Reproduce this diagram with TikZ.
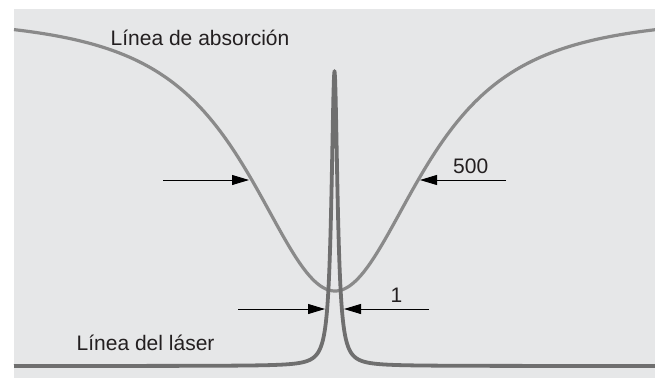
\documentclass[tikz,border=0pt]{standalone}
\usepackage{fontspec}
\setmainfont{Liberation Sans}
\usetikzlibrary{arrows.meta}
\definecolor{bg}{HTML}{E6E7E8}
\definecolor{absorb}{HTML}{8A8A8A}
\definecolor{laser}{HTML}{6F6F6F}
\definecolor{txt}{HTML}{231F20}
\begin{document}
\begin{tikzpicture}[x=1pt,y=-1pt,
  lbl/.style={anchor=base west,inner sep=0pt,text=txt,font=\fontsize{21}{25}\selectfont},
  dim/.style={draw=black,line width=0.9pt,-{Triangle[length=17pt,width=10pt]}},
  absline/.style={draw=absorb,line width=3.2pt,line join=round},
  lasline/.style={draw=laser,line width=3.8pt,line join=round}]
\useasboundingbox (0,0) rectangle (655,378);
\fill[bg] (14,9) rectangle (655,378);
% absorption line
\draw[absline] plot[domain=-321:320,samples=321,smooth] ({335+\x},{15+276/((1+(\x/130)^2)^1.5)});
% laser line
\draw[lasline] plot[domain=-320.5:320.5,samples=1283] ({334.5+\x},{366-295/(1+(\x/3.6)^2)});
% labels
\node[lbl] (tabs) at (110.5,45) {Línea de absorción};
\node[lbl] (tlas) at (76.5,350) {Línea del láser};
\node[lbl] (t500) at (453,173) {500};
\node[lbl] (tone) at (390.5,302) {1};
% dimension arrows
\coordinate (aL0) at (163,180); \coordinate (aL1) at (249,180);
\coordinate (aR0) at (506,180); \coordinate (aR1) at (420,180);
\coordinate (bL0) at (238,309); \coordinate (bL1) at (325,309);
\coordinate (bR0) at (429,309); \coordinate (bR1) at (344,309);
\draw[dim] (aL0) -- (aL1);
\draw[dim] (aR0) -- (aR1);
\draw[dim] (bL0) -- (bL1);
\draw[dim] (bR0) -- (bR1);
\end{tikzpicture}
\end{document}
